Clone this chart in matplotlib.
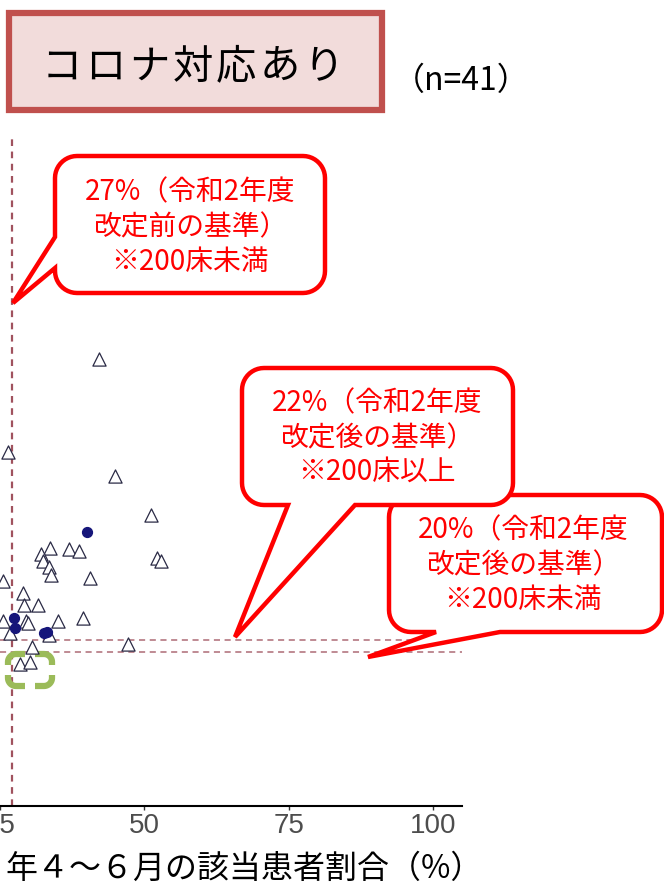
import numpy as np
import matplotlib
matplotlib.use("Agg")
import matplotlib.pyplot as plt
from matplotlib.path import Path
from matplotlib.patches import PathPatch, Rectangle

plt.rcParams['font.family'] = ['Noto Sans CJK JP', 'DejaVu Sans']

# data (x: 令和2年4~6月の該当患者割合 %, y: 比較対象の割合 %)
tri_x = [42.2, 26.4, 44.9, 51.1, 33.7, 32.1, 36.9, 38.6, 52.1, 52.9,
         32.4, 33.5, 33.8, 40.5, 25.5, 28.9, 29.1, 31.6, 39.4, 35.0,
         29.5, 29.8, 25.5, 26.8, 33.4, 47.2, 30.5, 28.5, 30.2]
tri_y = [68.8, 53.4, 49.4, 42.8, 37.3, 36.4, 37.2, 36.8, 35.6, 35.2,
         35.2, 34.1, 32.8, 32.3, 31.9, 29.9, 27.8, 27.8, 25.6, 25.1,
         25.1, 24.9, 25.1, 23.1, 22.9, 21.3, 20.9, 18.0, 18.3]
dot_x = [40.1, 27.5, 27.6, 32.7, 33.1]
dot_y = [40.0, 25.6, 24.0, 23.1, 23.4]

vline_vals = [27]          # 27% 改定前の基準
hline_vals = [22, 20]      # 22%, 20% 改定後の基準
x_ticks = [25, 50, 75, 100]

title_text = "コロナ対応あり"
n_text = "（n=41）"
xlabel_text = "年４～６月の該当患者割合（%）"
bubble_texts = [
    ["27%（令和2年度", "改定前の基準）", "※200床未満"],
    ["22%（令和2年度", "改定後の基準）", "※200床以上"],
    ["20%（令和2年度", "改定後の基準）", "※200床未満"],
]

W, H = 664, 891
fig = plt.figure(figsize=(W / 100, H / 100), dpi=100)

# main scatter axes (pixel layout: x 0-462, y 138-806)
ax = fig.add_axes([0, 1 - 806 / H, 462 / W, (806 - 138) / H])
ax.set_xlim(25.34, 105)
ax.set_ylim(-5.67, 105.67)
for s in ['top', 'right', 'left']:
    ax.spines[s].set_visible(False)
ax.spines['bottom'].set_linewidth(1.5)
ax.set_yticks([])
ax.set_xticks(x_ticks)
ax.set_xticklabels([str(t) for t in x_ticks], family=['Liberation Sans', 'DejaVu Sans'],
                   fontsize=20, color='#4d4d4d')
ax.tick_params(axis='x', length=3, width=1, pad=2, color='#333333')

line_col = '#a0525e'
for v in vline_vals:
    ax.axvline(v, color=line_col, lw=1.6, dashes=(3, 2.5), zorder=1)
for v in hline_vals:
    ax.axhline(v, color=line_col, lw=1.1, dashes=(4, 3), alpha=0.85, zorder=1)

ax.scatter(tri_x, tri_y, marker='^', s=90, facecolors='white',
           edgecolors='#2a2a45', linewidths=0.9, zorder=3)
ax.scatter(dot_x, dot_y, marker='o', s=50, color='#16167a', zorder=4)

# overlay in pixel coordinates for annotations
ov = fig.add_axes([0, 0, 1, 1], zorder=5)
ov.set_xlim(0, W)
ov.set_ylim(H, 0)
ov.axis('off')
ov.patch.set_visible(False)


def arc(cx, cy, r, t0, t1, n=12):
    t = np.radians(np.linspace(t0, t1, n))
    return list(zip(cx + r * np.cos(t), cy + r * np.sin(t)))


def bubble(x0, y0, x1, y1, r, side, b1, b2, tip):
    pts = [(x0 + r, y0), (x1 - r, y0)]
    pts += arc(x1 - r, y0 + r, r, -90, 0)
    pts += [(x1, y1 - r)]
    pts += arc(x1 - r, y1 - r, r, 0, 90)
    if side == 'bottom':
        pts += [(max(b1, b2), y1), tip, (min(b1, b2), y1)]
    pts += [(x0 + r, y1)]
    pts += arc(x0 + r, y1 - r, r, 90, 180)
    if side == 'left':
        pts += [(x0, max(b1, b2)), tip, (x0, min(b1, b2))]
    pts += [(x0, y0 + r)]
    pts += arc(x0 + r, y0 + r, r, 180, 270)
    verts = pts + [pts[0]]
    codes = [Path.MOVETO] + [Path.LINETO] * (len(verts) - 2) + [Path.CLOSEPOLY]
    return PathPatch(Path(verts, codes), facecolor='white', edgecolor='#ff0000',
                     lw=3.2, joinstyle='miter')


# bubble 3 first, bubble 2 overlaps it
ov.add_patch(bubble(389, 495, 662, 632, 22, 'bottom', 436, 500, (368, 657)))
ov.add_patch(bubble(242, 368, 513, 505, 22, 'bottom', 288, 355, (235, 637)))
ov.add_patch(bubble(55, 156, 325, 293, 22, 'left', 237, 268, (13, 303)))

centers = [(190, [192, 227, 262]), (377, [403, 438, 472]), (523, [530, 565, 600])]
for (cx, ys), lines in zip(centers, bubble_texts):
    for yy, txt in zip(ys, lines):
        ov.text(cx, yy, txt, color='#ff0000', fontsize=20, ha='center', va='center')

# green dashed highlight box (corner pieces)
gx0, gy0, gx1, gy1, gr = 8, 654, 52, 686, 8
gmx, gmy, gap = (gx0 + gx1) / 2, (gy0 + gy1) / 2, 5
corners = [
    [(gmx - gap, gy0), (gx0 + gr, gy0)] + arc(gx0 + gr, gy0 + gr, gr, 270, 180) + [(gx0, gmy - gap)],
    [(gmx + gap, gy0), (gx1 - gr, gy0)] + arc(gx1 - gr, gy0 + gr, gr, -90, 0) + [(gx1, gmy - gap)],
    [(gx1, gmy + gap), (gx1, gy1 - gr)] + arc(gx1 - gr, gy1 - gr, gr, 0, 90) + [(gmx + gap, gy1)],
    [(gx0, gmy + gap), (gx0, gy1 - gr)] + arc(gx0 + gr, gy1 - gr, gr, 180, 90) + [(gmx - gap, gy1)],
]
for c in corners:
    cx_, cy_ = zip(*c)
    ax.plot(cx_, cy_, color='#9bbb59', lw=4.5, solid_capstyle='butt',
            transform=ov.transData, clip_on=False, zorder=2)

# title box
ov.add_patch(Rectangle((9, 13), 373, 97, facecolor='#f2dcdb', edgecolor='#c0504d', lw=4.5))
step = (345 - 40) / len(title_text)
for i, ch in enumerate(title_text):
    ov.text(40 + step * (i + 0.5), 67, ch, fontsize=29, ha='center', va='center', color='black')
ov.text(393, 81, n_text, fontsize=23, ha='left', va='center', color='black')

# x axis label
ov.text(5, 869, xlabel_text, fontsize=23, ha='left', va='center', color='black')

fig.savefig("out.png", dpi=100)
